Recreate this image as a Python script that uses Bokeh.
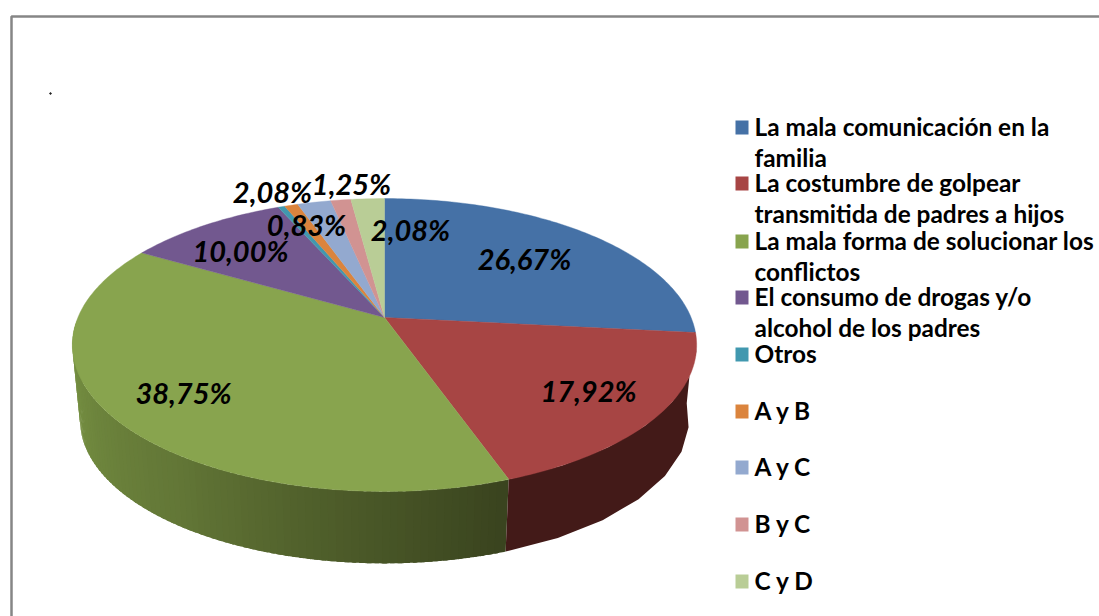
import numpy as np
from bokeh.plotting import figure
from bokeh.models import Range1d
from bokeh.core.properties import value
from bokeh.embed import file_html
from bokeh.resources import INLINE

# ---- data ----
categories = ["La mala comunicación en la\nfamilia",
              "La costumbre de golpear\ntransmitida de padres a hijos",
              "La mala forma de solucionar los\nconflictos",
              "El consumo de drogas y/o\nalcohol de los padres",
              "Otros", "A y B", "A y C", "B y C", "C y D"]
values = [26.67, 17.92, 38.75, 10.00, 0.42, 0.83, 2.08, 1.25, 2.08]
value_labels = ["26,67%", "17,92%", "38,75%", "10,00%", "", "0,83%", "2,08%", "1,25%", "2,08%"]
colors = ["#4571A6", "#A74544", "#88A44E", "#72588F", "#4198AF", "#DB843D", "#93A9CF", "#D19392", "#B9CD96"]

# ---- layout (reference pixels) ----
label_x = [524, 588, 183, 240, 0, 306, 272, 351, 410]
label_y = [258, 390, 392, 250, 0, 224, 191, 183, 229]
legend_y = [127, 183, 241, 297, 354, 411, 467, 524, 581]
LINE = 31

K = 0.1877
def top(t):
    d = np.cos(t)
    return 384 + 306.6 * np.sin(t) / (1 + K * d), 317 - 141.3 * d / (1 + K * d)
def bottom(t):
    d = np.cos(t)
    return 384 + 299.0 * np.sin(t) / (1 + K * d), 393 - 138.0 * d / (1 + K * d)

p = figure(width=1099, height=616, output_backend="svg", toolbar_location=None,
           x_range=Range1d(0, 1099), y_range=Range1d(616, 0), min_border=0)
p.axis.visible = False
p.grid.visible = False
p.outline_line_color = None
p.background_fill_color = "white"

# frame and stray dot
p.line([11, 11, 1099], [616, 16, 16], line_color="#868686", line_width=2.5)
p.scatter([50], [93], size=1.6, color="#222222", marker="circle")

edges = np.radians(np.concatenate([[0], np.cumsum(values)]) * 3.6)

def strip(a, b, col):
    ts = np.linspace(a, b, 8)
    xt, yt = top(ts)
    xb, yb = bottom(ts[::-1])
    p.patch(np.r_[xt, xb], np.r_[yt, yb], fill_color=col, line_color=None)

# side wall: green shaded from light (left) to dark (front right), painted
# left to right so that each strip overlaps its neighbour and leaves no seam
stops_x = [0.0, 0.25, 0.5, 0.75, 1.0]
stops_rgb = np.array([[0x3A, 0x44, 0x1F], [0x4E, 0x5D, 0x2A], [0x63, 0x77, 0x37], [0x6F, 0x87, 0x3E], [0x7C, 0x97, 0x46]])
n = 90
a0, a1 = edges[2], np.radians(268)
for i in range(n - 1, -1, -1):
    f = (i + 0.5) / n
    c = [int(np.interp(f, stops_x, stops_rgb[:, j])) for j in range(3)]
    strip(a0 + (a1 - a0) * i / n, a0 + (a1 - a0) * (i + 1.6) / n, "#%02x%02x%02x" % tuple(c))

# side wall: red
strip(np.radians(94), edges[2], "#431A18")

# top face
for i, c in enumerate(colors):
    ts = np.linspace(edges[i], edges[i + 1], max(3, int((edges[i + 1] - edges[i]) * 60)))
    x, y = top(ts)
    p.patch(np.r_[384, x], np.r_[317, y], fill_color=c, line_color=c, line_width=0.4)

# value labels
lx = [x for x, s in zip(label_x, value_labels) if s]
ly = [y for y, s in zip(label_y, value_labels) if s]
lt = [s for s in value_labels if s]
p.text(lx, ly, text=lt, text_font=value("Lato"), text_font_style="bold italic",
       text_font_size="29px", text_align="center", text_baseline="middle", text_color="#000000")

# legend
for cat, c, y in zip(categories, colors, legend_y):
    p.quad(left=[735], right=[748], top=[y - 7], bottom=[y + 7], fill_color=c, line_color=None)
    for j, ln in enumerate(cat.split("\n")):
        p.text([754], [y - 1 + j * LINE], text=[ln], text_font=value("Lato"), text_font_style="bold",
               text_font_size="24.4px", text_align="left", text_baseline="middle", text_color="#000000")

open("out.html", "w").write(file_html(p, INLINE))
